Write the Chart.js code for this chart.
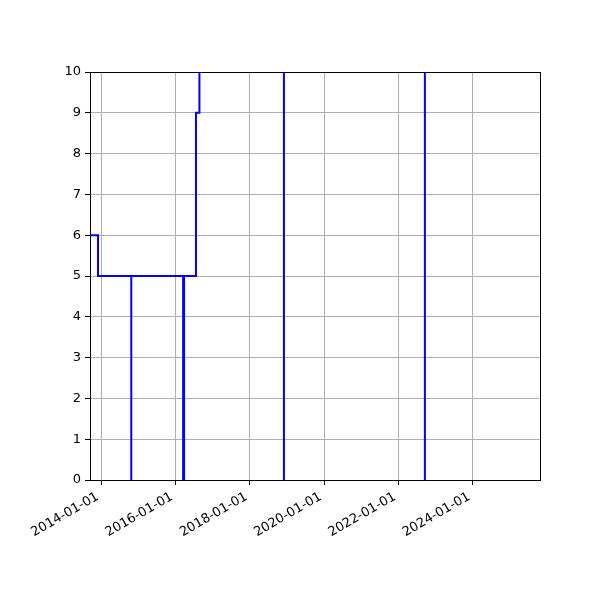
<!DOCTYPE html>
<html>
<head>
<meta charset="utf-8">
<script src="https://cdn.jsdelivr.net/npm/chart.js@4/dist/chart.umd.min.js"></script>
<style>
  html, body { margin: 0; padding: 0; background: #fff; }
  #wrap { width: 600px; height: 600px; }
</style>
</head>
<body>
<div id="wrap"><canvas id="stepChart" width="600" height="600"></canvas></div>
<script>
// step series (values above 10 are clipped in the reference)
const stepDates = [
  '2013-09-11', '2013-11-29', '2014-10-22', '2014-10-22',
  '2016-03-15', '2016-03-15', '2016-03-24', '2016-03-24',
  '2016-07-19', '2016-08-22', '2018-12-01', '2018-12-01',
  '2022-09-17', '2022-09-17', '2025-10-23'
];
const stepValues = [6, 5, 0, 5, 0, 5, 0, 5, 9, 15, 0, 15, 0, 15, 15];

const xTickYears = [2014, 2016, 2018, 2020, 2022, 2024];
const yTicks = [0, 1, 2, 3, 4, 5, 6, 7, 8, 9, 10];

const X_MIN = Date.UTC(2013, 8, 11);
const X_MAX = Date.UTC(2025, 9, 23);

function toMs(s) {
  const [y, m, d] = s.split('-').map(Number);
  return Date.UTC(y, m - 1, d);
}

function fmtDate(ms) {
  const d = new Date(ms);
  const p = n => String(n).padStart(2, '0');
  return `${d.getUTCFullYear()}-${p(d.getUTCMonth() + 1)}-${p(d.getUTCDate())}`;
}

const points = stepDates.map((s, i) => ({ x: toMs(s), y: stepValues[i] }));

// matplotlib-like closed frame around the plot area
const framePlugin = {
  id: 'frame',
  afterDraw(chart) {
    const { ctx, chartArea: a } = chart;
    ctx.save();
    ctx.strokeStyle = '#000';
    ctx.lineWidth = 1;
    ctx.strokeRect(Math.round(a.left) + 0.5, Math.round(a.top) + 0.5,
      Math.round(a.right - a.left), Math.round(a.bottom - a.top));
    ctx.restore();
  }
};

new Chart(document.getElementById('stepChart').getContext('2d'), {
  type: 'line',
  data: {
    datasets: [{
      data: points,
      stepped: 'before',
      borderColor: '#0000ff',
      borderWidth: 2,
      pointRadius: 0,
      fill: false,
      tension: 0,
    }]
  },
  options: {
    responsive: false,
    animation: false,
    devicePixelRatio: 1,
    layout: { padding: { top: 72, right: 60, left: 0, bottom: 0 } },
    plugins: { legend: { display: false }, tooltip: { enabled: false } },
    scales: {
      x: {
        type: 'linear',
        min: X_MIN,
        max: X_MAX,
        afterBuildTicks: scale => { scale.ticks = xTickYears.map(y => ({ value: Date.UTC(y, 0, 1) })); },
        afterFit: scale => { scale.height = 120; },
        ticks: {
          // trailing space nudges the rotated label like matplotlib's anchoring
          callback: v => fmtDate(v) + ' ',
          minRotation: 30,
          maxRotation: 30,
          autoSkip: false,
          color: '#000',
          padding: 2,
          font: { family: 'DejaVu Sans', size: 13 },
        },
        grid: { color: '#b0b0b0', lineWidth: 1, tickColor: '#000', tickLength: 5 },
        border: { color: '#000', width: 1 },
      },
      y: {
        min: 0,
        max: 10,
        afterBuildTicks: scale => { scale.ticks = yTicks.map(v => ({ value: v })); },
        afterFit: scale => { scale.width = 90; },
        ticks: {
          color: '#000',
          padding: 4,
          font: { family: 'DejaVu Sans', size: 13 },
        },
        grid: { color: '#b0b0b0', lineWidth: 1, tickColor: '#000', tickLength: 5 },
        border: { color: '#000', width: 1 },
      },
    },
  },
  plugins: [framePlugin],
});
</script>
</body>
</html>
